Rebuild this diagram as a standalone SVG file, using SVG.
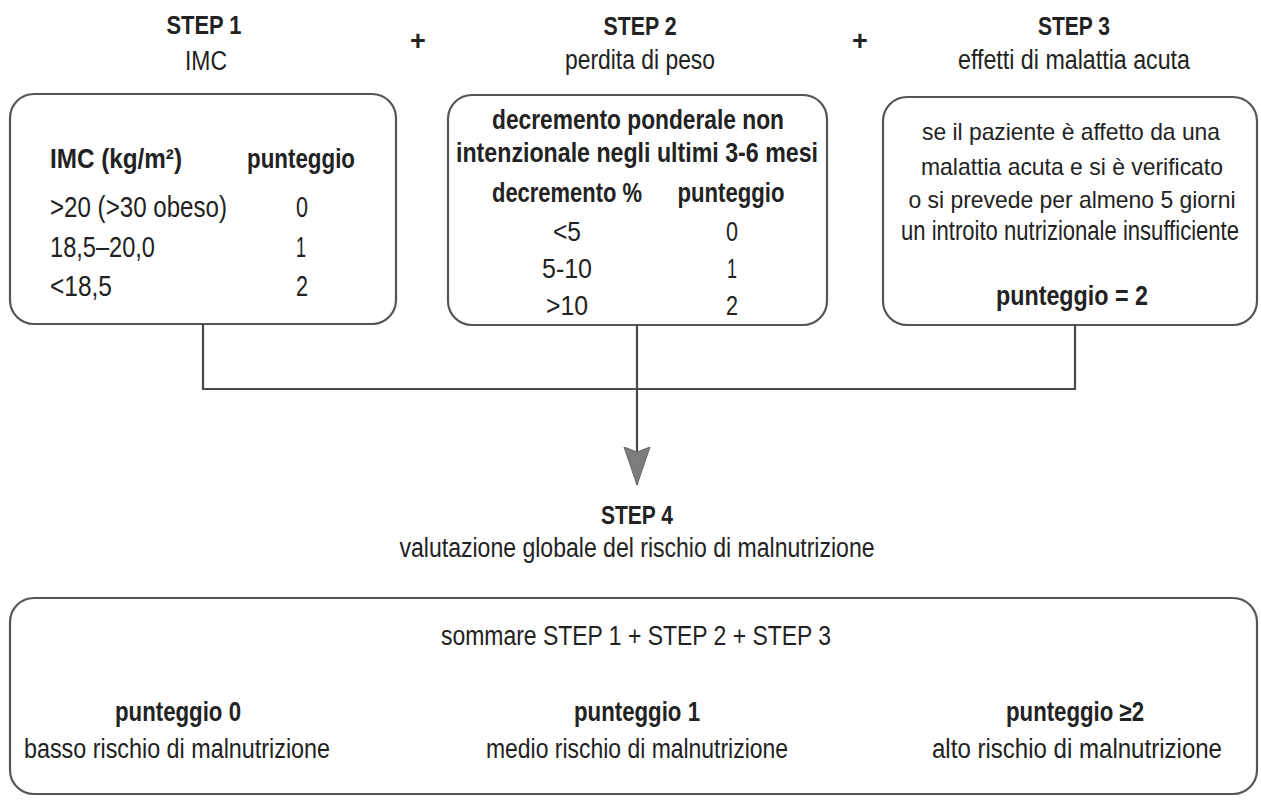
<svg xmlns="http://www.w3.org/2000/svg" width="1261" height="809" viewBox="0 0 1261 809">
<style>
text{font-family:"Liberation Sans",Arial,sans-serif;fill:#222;font-size:27px;}
.b{font-weight:bold;}
.t{font-size:26px;}
.c{text-anchor:middle;}
.s1{font-size:29px;}
.s2{font-size:28px;}
.s3{font-size:24px;}
.box{fill:#fff;stroke:#555;stroke-width:2.2;}
.ln{fill:none;stroke:#4a4a4a;stroke-width:2.2;}
</style>
<defs>
<marker id="ah" markerWidth="38" markerHeight="28" refX="38" refY="14" orient="auto" markerUnits="userSpaceOnUse" viewBox="0 0 38 28">
<path d="M0,1 L5,14 L0,27 L38,14 Z" fill="#7d7d7d" stroke="#666" stroke-width="1"/>
</marker>
</defs>
<rect width="1261" height="809" fill="#fff"/>

<g id="headers">
<text class="b t c" x="204" y="34" textLength="75" lengthAdjust="spacingAndGlyphs">STEP 1</text>
<text class="c" x="206" y="70" textLength="42" lengthAdjust="spacingAndGlyphs">IMC</text>
<text class="b c" x="418" y="50" font-size="28">+</text>
<text class="b t c" x="640" y="35" textLength="73" lengthAdjust="spacingAndGlyphs">STEP 2</text>
<text class="c" x="640" y="69" textLength="150" lengthAdjust="spacingAndGlyphs">perdita di peso</text>
<text class="b c" x="860" y="50" font-size="28">+</text>
<text class="b t c" x="1074" y="35" textLength="72" lengthAdjust="spacingAndGlyphs">STEP 3</text>
<text class="c" x="1074" y="69" textLength="232" lengthAdjust="spacingAndGlyphs">effetti di malattia acuta</text>
</g>

<g id="step1">
<rect class="box" x="10" y="94" width="386" height="230" rx="24"/>
<text class="b s2" x="50" y="168" textLength="132" lengthAdjust="spacingAndGlyphs">IMC (kg/m²)</text>
<text class="b s2 c" x="301" y="168" textLength="108" lengthAdjust="spacingAndGlyphs">punteggio</text>
<text class="s1" x="50" y="217" textLength="177" lengthAdjust="spacingAndGlyphs">&gt;20 (&gt;30 obeso)</text>
<text class="s1 c" x="302" y="217" textLength="12" lengthAdjust="spacingAndGlyphs">0</text>
<text class="s1" x="50" y="257" textLength="105" lengthAdjust="spacingAndGlyphs">18,5–20,0</text>
<text class="s1 c" x="301" y="257" textLength="10" lengthAdjust="spacingAndGlyphs">1</text>
<text class="s1" x="50" y="296" textLength="62" lengthAdjust="spacingAndGlyphs">&lt;18,5</text>
<text class="s1 c" x="302" y="296" textLength="12" lengthAdjust="spacingAndGlyphs">2</text>
</g>

<g id="step2">
<rect class="box" x="448" y="95" width="379" height="230" rx="24"/>
<text class="b c" x="638" y="129" textLength="292" lengthAdjust="spacingAndGlyphs">decremento ponderale non</text>
<text class="b c" x="637" y="162" textLength="362" lengthAdjust="spacingAndGlyphs">intenzionale negli ultimi 3-6 mesi</text>
<text class="b c" x="567" y="202" textLength="150" lengthAdjust="spacingAndGlyphs">decremento %</text>
<text class="b c" x="731" y="202" textLength="107" lengthAdjust="spacingAndGlyphs">punteggio</text>
<text class="s2 c" x="567" y="241" textLength="28" lengthAdjust="spacingAndGlyphs">&lt;5</text>
<text class="s2 c" x="732" y="241" textLength="12" lengthAdjust="spacingAndGlyphs">0</text>
<text class="s2 c" x="567" y="278" textLength="50" lengthAdjust="spacingAndGlyphs">5-10</text>
<text class="s2 c" x="732" y="278" textLength="10" lengthAdjust="spacingAndGlyphs">1</text>
<text class="s2 c" x="567" y="315" textLength="42" lengthAdjust="spacingAndGlyphs">&gt;10</text>
<text class="s2 c" x="732" y="315" textLength="12" lengthAdjust="spacingAndGlyphs">2</text>
</g>

<g id="step3">
<rect class="box" x="883" y="97" width="374" height="228" rx="24"/>
<text class="s3 c" x="1071" y="140" textLength="298" lengthAdjust="spacingAndGlyphs">se il paziente è affetto da una</text>
<text class="s3 c" x="1072" y="175" textLength="302" lengthAdjust="spacingAndGlyphs">malattia acuta e si è verificato</text>
<text class="s3 c" x="1072" y="208" textLength="327" lengthAdjust="spacingAndGlyphs">o si prevede per almeno 5 giorni</text>
<text class="c" x="1070" y="240" font-size="22" textLength="338" lengthAdjust="spacingAndGlyphs">un introito nutrizionale insufficiente</text>
<text class="b c" x="1072" y="305" textLength="152" lengthAdjust="spacingAndGlyphs">punteggio = 2</text>
</g>

<g id="connectors">
<polyline class="ln" points="203,324 203,389 1075,389 1075,325"/>
<line class="ln" x1="637" y1="325" x2="637" y2="485" marker-end="url(#ah)"/>
</g>

<g id="step4">
<text class="b t c" x="637" y="524" textLength="72" lengthAdjust="spacingAndGlyphs">STEP 4</text>
<text class="c" x="637" y="557" textLength="475" lengthAdjust="spacingAndGlyphs">valutazione globale del rischio di malnutrizione</text>
</g>

<g id="result">
<rect class="box" x="10" y="598" width="1247" height="196" rx="24"/>
<text class="c" x="636" y="645" textLength="390" lengthAdjust="spacingAndGlyphs">sommare STEP 1 + STEP 2 + STEP 3</text>
<text class="b c" x="178" y="721" textLength="126" lengthAdjust="spacingAndGlyphs">punteggio 0</text>
<text class="c" x="177" y="758" textLength="306" lengthAdjust="spacingAndGlyphs">basso rischio di malnutrizione</text>
<text class="b c" x="637" y="721" textLength="126" lengthAdjust="spacingAndGlyphs">punteggio 1</text>
<text class="c" x="637" y="758" textLength="302" lengthAdjust="spacingAndGlyphs">medio rischio di malnutrizione</text>
<text class="b c" x="1075" y="721" textLength="138" lengthAdjust="spacingAndGlyphs">punteggio ≥2</text>
<text class="c" x="1077" y="758" textLength="290" lengthAdjust="spacingAndGlyphs">alto rischio di malnutrizione</text>
</g>
</svg>
